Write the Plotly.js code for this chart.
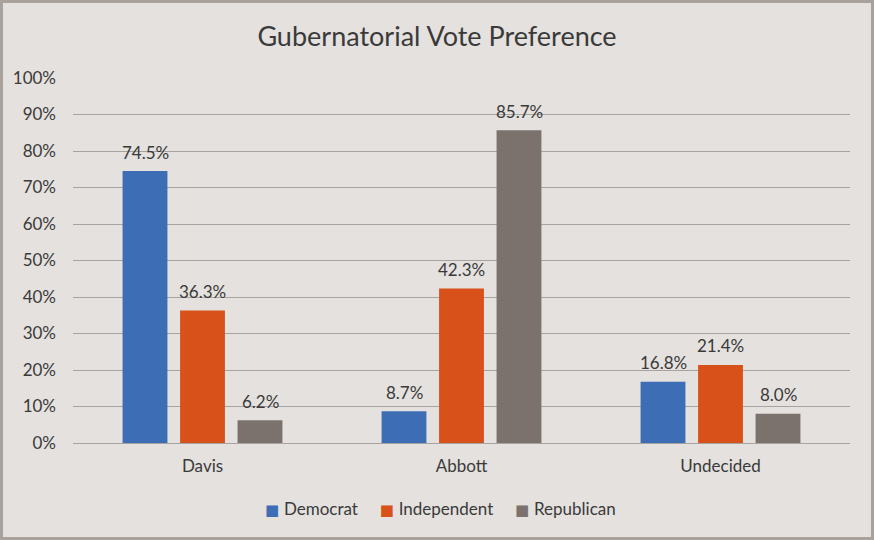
<!DOCTYPE html>
<html><head><meta charset="utf-8">
<script src="https://cdn.plot.ly/plotly-3.0.1.min.js"></script>
<style>
html,body{margin:0;padding:0;background:#e4e1de;}
#wrap{width:874px;height:540px;box-sizing:border-box;border:3px solid #a8a19c;background:#e4e1de;}
#chart{width:868px;height:534px;}
</style></head>
<body><div id="wrap"><div id="chart"></div></div>
<script>
const categories = ['Davis', 'Abbott', 'Undecided'];
const democrat = [74.5, 8.7, 16.8];
const independent = [36.3, 42.3, 21.4];
const republican = [6.2, 85.7, 8.0];
const seriesNames = ['Democrat', 'Independent', 'Republican'];
const colors = ['#3d6db4', '#d8501a', '#7b726d'];
const titleText = 'Gubernatorial Vote Preference';

const font = 'Lato, "Open Sans", sans-serif';
const txtColor = '#3a3a3a';
const vals = [democrat, independent, republican];
const traces = vals.map((v, i) => ({
  type: 'bar', x: categories, y: v, name: seriesNames[i],
  marker: {color: colors[i]},
  hoverinfo: 'none'
}));
// data labels as annotations above bars
const slotPx = 57.5;
const annotations = [];
vals.forEach((v, i) => {
  v.forEach((d, j) => {
    annotations.push({
      x: categories[j], y: d, xref: 'x', yref: 'y',
      text: d.toFixed(1) + '%', showarrow: false,
      xshift: (i - 1) * slotPx, yshift: 19, yanchor: 'middle',
      font: {family: font, size: 17, color: txtColor}
    });
  });
});
// legend built from text
const nb = '\u00a0';
const legendText = seriesNames.map((n, i) =>
  '<span style="color:' + colors[i] + ';font-family:DejaVu Sans;font-size:15px">\u25A0' + nb + '</span>' + n
).join(nb.repeat(5));
annotations.push({
  x: 0.5, y: -0.18, xref: 'paper', yref: 'paper', xshift: -21,
  text: legendText, showarrow: false, xanchor: 'center', yanchor: 'middle',
  font: {family: font, size: 17, color: txtColor}
});
const layout = {
  width: 868, height: 534,
  paper_bgcolor: '#e4e1de', plot_bgcolor: '#e4e1de',
  margin: {l: 70, r: 21, t: 75, b: 94},
  font: {family: font, color: txtColor},
  title: {text: titleText, font: {family: font, size: 27, color: txtColor}, x: 0.5, xanchor: 'center', y: 1 - 34/534, yanchor: 'middle', yref: 'container'},
  barmode: 'group', bargap: 0.334, bargroupgap: 0.22,
  xaxis: {showgrid: false, showline: false, zeroline: false, ticks: '', tickfont: {family: font, size: 17, color: txtColor}, ticklabelstandoff: 11},
  yaxis: {range: [0, 100], dtick: 10, ticksuffix: '%', gridcolor: '#a7a3a0', gridwidth: 1, zeroline: true, zerolinecolor: '#a7a3a0', zerolinewidth: 1, showline: false, tickfont: {family: font, size: 17, color: txtColor}, ticklabelstandoff: 16, fixedrange: true},
  showlegend: false,
  annotations: annotations
};
Plotly.newPlot('chart', traces, layout, {staticPlot: true});
</script></body></html>
